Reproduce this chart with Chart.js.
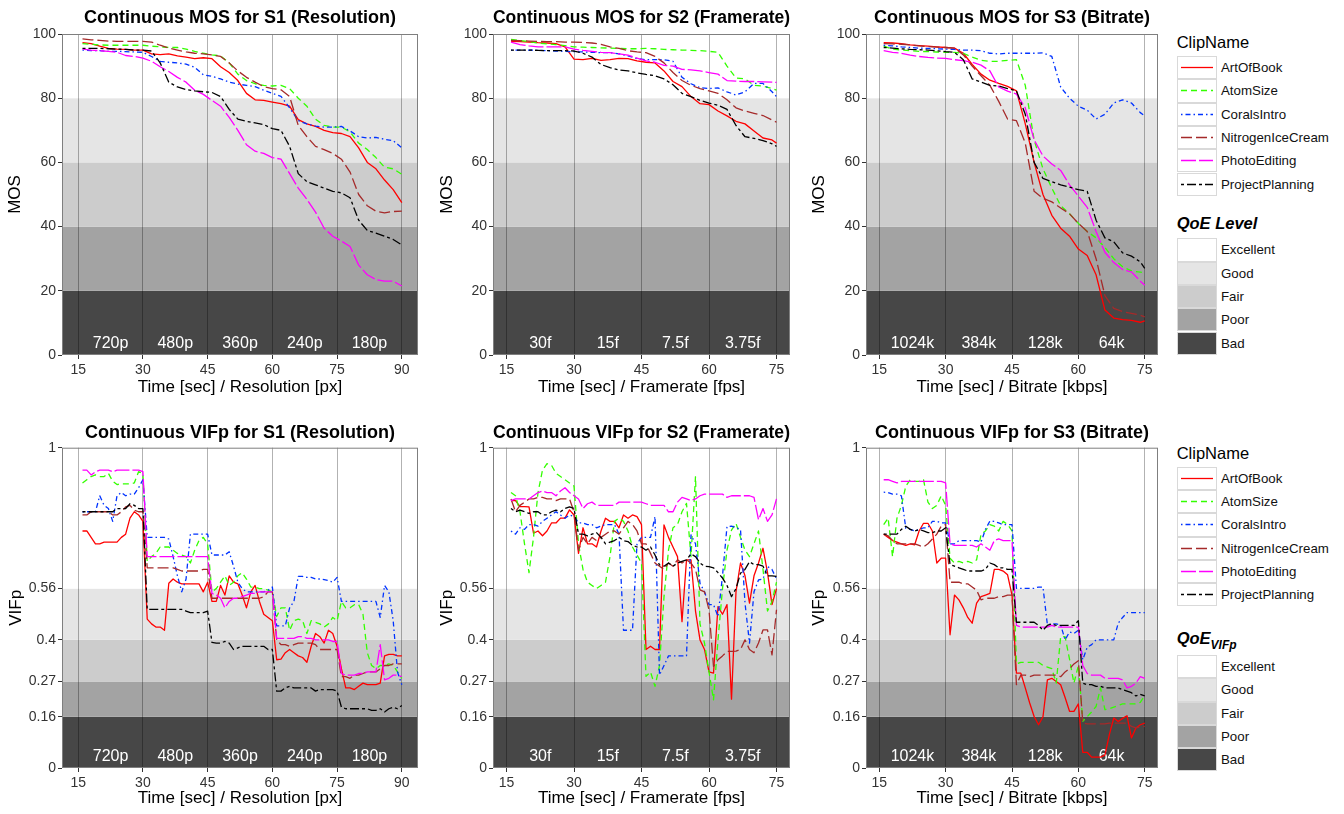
<!DOCTYPE html>
<html>
<head>
<meta charset="utf-8">
<script src="https://cdn.jsdelivr.net/npm/chart.js@4.4.0/dist/chart.umd.min.js"></script>
<style>
  body { margin: 0; background: #fff; font-family: "Liberation Sans", Arial, sans-serif; }
  #page { position: relative; width: 1344px; height: 814px; overflow: hidden; }
  canvas { position: absolute; }
  .lg { position: absolute; color: #000; white-space: nowrap; }
  .key { position: absolute; width: 40px; height: 23.3px; box-sizing: border-box; border: 1px solid #d9d9d9; background: #fff; }
  .lab { position: absolute; font-size: 13.3px; line-height: 23.3px; color: #111; }
</style>
</head>
<body>
<div id="page">
  <canvas id="mos1" width="422" height="400" style="left:0;top:0"></canvas>
  <canvas id="mos2" width="364" height="400" style="left:430px;top:0"></canvas>
  <canvas id="mos3" width="362" height="400" style="left:800px;top:0"></canvas>
  <canvas id="vif1" width="422" height="404" style="left:0;top:410px"></canvas>
  <canvas id="vif2" width="364" height="404" style="left:430px;top:410px"></canvas>
  <canvas id="vif3" width="362" height="404" style="left:800px;top:410px"></canvas>
</div>
<script>
// ---- categories / ticks ----
const clipNames = ["ArtOfBook", "AtomSize", "CoralsIntro", "NitrogenIceCream", "PhotoEditing", "ProjectPlanning"];
const qoeLevels = ["Excellent", "Good", "Fair", "Poor", "Bad"];
const mosLimits = [0, 20, 40, 60, 80, 100];
const vifLimits = [0, 0.16, 0.27, 0.4, 0.56, 1];
const mosTicks = [0, 20, 40, 60, 80, 100];
const vifTicks = [0, 0.16, 0.27, 0.4, 0.56, 1];
const s1Ticks = [15, 30, 45, 60, 75, 90];
const s23Ticks = [15, 30, 45, 60, 75];
const s1Segments = ["720p", "480p", "360p", "240p", "180p"];
const s2Segments = ["30f", "15f", "7.5f", "3.75f"];
const s3Segments = ["1024k", "384k", "128k", "64k"];
const segCenters = [22.5, 37.5, 52.5, 67.5, 82.5];

// ---- time axes ----
const mosTimeS1 = [16,18,20,22,24,26,28,30,32,34,36,38,40,42,44,46,48,50,52,54,56,58,60,62,64,66,68,70,72,74,76,78,80,82,84,86,88,90];
const mosTimeS23 = [16,18,20,22,24,26,28,30,32,34,36,38,40,42,44,46,48,50,52,54,56,58,60,62,64,66,68,70,72,74,75];
const vifTimeS1 = [16,17,18,19,20,21,22,23,24,25,26,27,28,29,30,31,32,33,34,35,36,37,38,39,40,41,42,43,44,45,46,47,48,49,50,51,52,53,54,55,56,57,58,59,60,61,62,63,64,65,66,67,68,69,70,71,72,73,74,75,76,77,78,79,80,81,82,83,84,85,86,87,88,89,90];
const vifTimeS23 = [16,17,18,19,20,21,22,23,24,25,26,27,28,29,30,31,32,33,34,35,36,37,38,39,40,41,42,43,44,45,46,47,48,49,50,51,52,53,54,55,56,57,58,59,60,61,62,63,64,65,66,67,68,69,70,71,72,73,74,75];

// ---- MOS S1 (Resolution) ----
const s1MosArt = [97.3,97.0,96.2,95.5,95.3,95.2,95.0,95.0,93.8,93.6,93.8,93.2,92.8,92.3,92.6,92.3,89.8,88.0,85.5,81.5,79.5,79.3,78.8,78.3,77.5,73.3,72.0,71.2,70.0,69.3,69.0,68.0,64.5,60.0,58.0,54.5,51.5,47.5];
const s1MosAtom = [97.0,96.8,96.6,96.5,96.5,96.5,96.5,96.5,96.2,96.0,95.8,95.8,95.3,94.6,94.0,93.5,93.2,91.0,87.5,85.5,84.5,84.0,83.8,84.0,83.0,80.0,77.5,73.5,71.5,71.0,71.0,69.5,66.0,64.0,61.5,58.5,58.0,56.3];
const s1MosCorals = [95.0,94.8,94.8,94.6,94.6,94.5,94.4,94.3,93.0,91.5,91.2,91.0,90.6,89.6,87.3,86.8,86.0,85.0,84.4,84.0,83.6,82.5,81.5,80.6,77.0,73.0,72.0,71.3,71.0,71.0,71.2,69.8,68.0,67.6,67.8,67.2,66.8,64.5];
const s1MosNitro = [98.5,98.2,98.0,97.8,97.7,97.7,97.7,97.7,97.5,96.5,95.6,95.0,94.4,94.0,93.8,93.5,93.0,91.0,88.5,86.5,85.0,83.6,83.0,82.6,80.5,71.5,68.0,65.0,64.0,62.8,61.0,57.0,50.0,46.5,44.8,44.3,44.7,44.8];
const s1MosPhoto = [95.3,95.0,94.8,94.6,94.3,93.3,93.0,92.5,91.5,89.8,88.3,86.5,85.0,82.5,81.2,79.3,77.5,74.0,70.0,65.5,63.5,62.8,61.5,61.0,56.5,52.0,48.5,44.5,39.5,37.0,35.5,33.8,28.0,25.0,23.5,23.0,23.0,21.5];
const s1MosProject = [95.5,95.5,95.5,95.4,95.3,95.2,95.0,95.0,94.7,91.0,85.0,83.5,82.7,82.3,82.0,81.8,80.5,76.5,73.5,72.8,72.3,71.8,70.5,70.0,65.0,56.5,54.0,53.0,52.0,51.0,50.5,49.0,42.0,38.8,38.0,37.0,36.0,34.3];

// ---- MOS S2 (Framerate) ----
const s2MosArt = [97.7,97.6,97.5,97.3,97.2,97.0,96.0,92.2,92.0,92.4,91.8,92.0,92.4,92.3,91.6,91.2,91.0,88.5,85.2,83.6,80.5,78.3,78.0,76.0,74.5,72.8,72.0,69.8,67.6,67.0,66.0];
const s2MosAtom = [98.3,98.0,97.6,97.2,96.9,96.7,96.4,96.0,95.9,95.8,95.7,95.6,95.5,95.4,95.4,95.5,95.4,95.2,95.1,95.0,94.9,94.8,94.6,94.3,90.0,86.3,86.0,84.0,83.8,83.0,82.5];
const s2MosCorals = [95.0,95.0,95.0,94.9,94.8,94.7,94.6,94.5,94.4,94.3,94.2,94.2,93.8,93.2,92.3,92.0,92.0,92.0,91.5,86.5,84.5,83.3,83.0,83.2,82.0,81.0,82.0,84.6,84.6,82.0,80.5];
const s2MosNitro = [98.0,97.9,97.8,97.7,97.6,97.6,97.5,97.5,97.4,97.2,96.8,96.0,95.5,94.8,94.4,94.2,93.0,91.0,88.0,85.5,84.0,83.0,82.3,81.5,79.5,77.0,76.0,75.3,74.6,73.2,72.5];
const s2MosPhoto = [97.5,96.7,96.3,96.0,96.0,96.0,96.0,95.3,94.9,94.6,94.3,94.2,93.8,93.4,92.5,91.6,91.2,90.2,90.0,89.0,88.8,88.5,88.0,87.5,85.5,85.3,85.2,85.2,85.1,85.0,84.9];
const s2MosProject = [95.0,95.0,95.0,94.9,94.8,94.8,94.8,94.7,94.0,92.8,90.5,89.5,88.8,88.5,87.9,87.4,87.0,86.0,84.2,81.5,80.5,79.3,78.5,77.8,76.5,71.5,68.0,67.5,66.8,65.8,65.0];

// ---- MOS S3 (Bitrate) ----
const s3MosArt = [97.3,97.2,97.0,96.6,96.4,96.2,96.0,95.8,95.6,94.0,90.5,87.5,85.6,84.6,83.7,82.3,72.0,60.0,50.0,43.5,39.5,37.0,33.0,31.0,25.0,14.0,11.5,11.0,10.8,10.2,10.6];
const s3MosAtom = [96.2,95.3,95.0,94.8,94.6,94.5,94.4,94.3,94.3,94.0,92.8,91.8,91.5,91.5,91.8,92.0,84.0,67.0,58.0,52.0,46.5,44.0,41.0,38.5,36.5,33.5,30.0,27.5,26.2,25.8,25.6];
const s3MosCorals = [96.5,96.3,96.0,95.8,95.6,95.5,95.4,95.3,95.2,95.0,95.0,94.8,94.0,93.8,94.0,94.0,94.0,94.0,94.1,93.0,83.5,80.0,77.5,76.3,73.5,75.0,78.5,79.5,78.5,75.5,74.5];
const s3MosNitro = [97.0,96.9,96.8,96.6,96.3,96.1,95.9,95.8,95.6,93.5,90.0,87.0,84.0,79.0,73.5,73.0,66.0,51.0,48.8,47.7,45.8,44.0,41.0,38.5,30.0,18.5,14.5,13.5,13.0,12.4,11.9];
const s3MosPhoto = [94.8,94.3,94.0,93.4,93.0,92.7,92.5,92.4,92.0,91.7,91.2,90.3,88.5,83.5,82.2,81.3,77.0,67.0,62.0,59.5,57.5,53.0,49.5,46.0,38.5,32.0,28.8,26.6,25.9,23.0,21.7];
const s3MosProject = [95.8,95.6,95.4,95.2,95.1,95.0,94.8,94.5,94.3,92.0,86.0,85.0,84.0,83.8,83.0,82.3,75.0,60.0,55.0,54.0,53.0,52.3,51.5,51.0,42.0,36.5,35.3,31.8,30.8,29.0,27.0];

// ---- VIFp S1 (Resolution) ----
const s1VifArt = [0.74,0.74,0.72,0.70,0.70,0.705,0.705,0.705,0.705,0.72,0.73,0.78,0.80,0.79,0.77,
  0.465,0.45,0.44,0.44,0.43,0.577,0.59,0.58,0.575,0.575,0.575,0.575,0.575,0.55,0.58,
  0.52,0.52,0.57,0.54,0.60,0.58,0.575,0.54,0.50,0.55,0.57,0.52,0.48,0.47,0.46,
  0.338,0.34,0.36,0.37,0.36,0.35,0.345,0.33,0.38,0.42,0.41,0.39,0.43,0.42,0.38,
  0.31,0.25,0.25,0.245,0.255,0.265,0.26,0.26,0.26,0.265,0.35,0.355,0.355,0.35,0.35];
const s1VifAtom = [0.89,0.90,0.91,0.915,0.91,0.91,0.92,0.895,0.885,0.887,0.887,0.887,0.89,0.925,0.92,
  0.645,0.66,0.67,0.69,0.69,0.69,0.68,0.67,0.665,0.66,0.64,0.68,0.71,0.72,0.70,
  0.55,0.56,0.58,0.60,0.57,0.58,0.60,0.61,0.59,0.565,0.565,0.56,0.56,0.555,0.55,
  0.473,0.50,0.50,0.43,0.46,0.465,0.46,0.42,0.46,0.455,0.45,0.44,0.45,0.47,0.46,
  0.52,0.50,0.50,0.51,0.51,0.48,0.36,0.32,0.31,0.32,0.32,0.325,0.32,0.30,0.28];
const s1VifCorals = [0.80,0.80,0.80,0.80,0.85,0.82,0.81,0.77,0.85,0.86,0.85,0.855,0.855,0.875,0.90,
  0.72,0.72,0.72,0.72,0.72,0.715,0.66,0.60,0.55,0.59,0.73,0.73,0.73,0.73,0.73,
  0.665,0.665,0.665,0.665,0.675,0.63,0.58,0.56,0.55,0.55,0.55,0.55,0.55,0.555,0.565,
  0.444,0.444,0.444,0.50,0.52,0.598,0.598,0.595,0.595,0.59,0.59,0.588,0.585,0.58,0.595,
  0.52,0.52,0.52,0.52,0.52,0.52,0.52,0.52,0.52,0.47,0.57,0.55,0.46,0.30,0.26];
const s1VifNitro = [0.79,0.79,0.80,0.80,0.80,0.80,0.80,0.79,0.79,0.80,0.815,0.82,0.805,0.80,0.80,
  0.625,0.625,0.625,0.625,0.625,0.625,0.625,0.62,0.615,0.615,0.615,0.615,0.615,0.62,0.62,
  0.53,0.53,0.53,0.53,0.53,0.53,0.53,0.53,0.53,0.53,0.53,0.53,0.535,0.55,0.55,
  0.40,0.385,0.385,0.38,0.385,0.39,0.39,0.39,0.39,0.385,0.37,0.37,0.37,0.37,0.37,
  0.285,0.285,0.28,0.29,0.29,0.295,0.30,0.30,0.30,0.31,0.32,0.32,0.325,0.325,0.325];
const s1VifPhoto = [0.93,0.93,0.915,0.925,0.93,0.93,0.93,0.925,0.93,0.93,0.93,0.93,0.93,0.93,0.925,
  0.66,0.66,0.66,0.66,0.66,0.66,0.66,0.66,0.66,0.66,0.66,0.66,0.66,0.66,0.66,
  0.545,0.54,0.53,0.50,0.52,0.53,0.53,0.535,0.54,0.545,0.545,0.55,0.55,0.55,0.55,
  0.405,0.405,0.405,0.405,0.405,0.41,0.41,0.405,0.405,0.40,0.40,0.40,0.40,0.395,0.395,
  0.295,0.29,0.29,0.29,0.295,0.295,0.30,0.30,0.30,0.385,0.275,0.28,0.29,0.29,0.285];
const s1VifProject = [0.80,0.80,0.80,0.80,0.80,0.80,0.80,0.80,0.81,0.81,0.81,0.825,0.82,0.81,0.81,
  0.495,0.495,0.495,0.495,0.495,0.495,0.495,0.495,0.495,0.49,0.485,0.485,0.485,0.485,0.49,
  0.392,0.39,0.39,0.395,0.39,0.37,0.375,0.38,0.38,0.38,0.38,0.38,0.38,0.37,0.37,
  0.24,0.24,0.25,0.255,0.25,0.25,0.25,0.25,0.25,0.24,0.245,0.245,0.245,0.245,0.24,
  0.19,0.185,0.185,0.185,0.185,0.185,0.185,0.18,0.18,0.185,0.175,0.185,0.19,0.185,0.195];

// ---- VIFp S2 (Framerate) ----
const s2VifArt = [0.835,0.835,0.816,0.816,0.815,0.733,0.74,0.725,0.74,0.765,0.765,0.78,0.78,0.806,0.79,
  0.67,0.75,0.70,0.70,0.69,0.74,0.78,0.77,0.77,0.75,0.79,0.78,0.79,0.785,0.76,
  0.37,0.38,0.37,0.37,0.759,0.72,0.69,0.66,0.457,0.65,0.65,0.49,0.40,0.37,0.30,
  0.296,0.504,0.48,0.51,0.215,0.55,0.64,0.60,0.515,0.60,0.64,0.686,0.61,0.51,0.56];
const s2VifAtom = [0.86,0.85,0.80,0.70,0.61,0.72,0.86,0.93,0.95,0.945,0.92,0.91,0.90,0.89,0.88,
  0.70,0.62,0.58,0.57,0.56,0.57,0.58,0.66,0.77,0.78,0.77,0.74,0.69,0.665,0.64,
  0.286,0.30,0.255,0.32,0.535,0.68,0.75,0.76,0.80,0.826,0.66,0.91,0.45,0.39,0.30,
  0.213,0.40,0.56,0.68,0.743,0.764,0.72,0.68,0.66,0.70,0.74,0.62,0.49,0.52,0.58];
const s2VifCorals = [0.74,0.73,0.75,0.745,0.76,0.76,0.755,0.77,0.78,0.79,0.80,0.79,0.78,0.79,0.785,
  0.765,0.765,0.76,0.76,0.75,0.755,0.76,0.76,0.76,0.73,0.43,0.43,0.43,0.70,0.72,
  0.72,0.72,0.785,0.29,0.32,0.35,0.35,0.35,0.35,0.35,0.728,0.70,0.577,0.55,0.51,
  0.51,0.473,0.60,0.754,0.755,0.75,0.745,0.515,0.39,0.55,0.587,0.59,0.629,0.62,0.59];
const s2VifNitro = [0.84,0.80,0.82,0.83,0.84,0.84,0.845,0.845,0.84,0.84,0.835,0.84,0.84,0.84,0.80,
  0.68,0.72,0.70,0.72,0.71,0.72,0.73,0.74,0.74,0.73,0.75,0.77,0.76,0.74,0.70,
  0.70,0.67,0.64,0.63,0.62,0.64,0.63,0.65,0.64,0.65,0.64,0.62,0.556,0.55,0.494,
  0.317,0.338,0.35,0.364,0.364,0.365,0.37,0.40,0.37,0.36,0.39,0.431,0.431,0.353,0.494];
const s2VifPhoto = [0.835,0.84,0.84,0.84,0.84,0.85,0.86,0.865,0.86,0.86,0.85,0.865,0.875,0.86,0.85,
  0.84,0.81,0.825,0.83,0.82,0.82,0.82,0.82,0.82,0.83,0.83,0.83,0.83,0.83,0.83,
  0.825,0.82,0.82,0.82,0.82,0.80,0.80,0.83,0.845,0.84,0.835,0.84,0.85,0.855,0.855,
  0.855,0.855,0.855,0.845,0.85,0.85,0.85,0.85,0.85,0.845,0.775,0.81,0.77,0.79,0.84];
const s2VifProject = [0.81,0.80,0.805,0.80,0.795,0.80,0.80,0.79,0.79,0.80,0.805,0.80,0.81,0.815,0.81,
  0.73,0.73,0.725,0.73,0.735,0.72,0.70,0.705,0.71,0.72,0.71,0.707,0.695,0.69,0.69,
  0.68,0.69,0.665,0.634,0.63,0.64,0.63,0.64,0.645,0.65,0.668,0.66,0.64,0.63,0.629,
  0.625,0.61,0.593,0.57,0.535,0.56,0.608,0.62,0.644,0.635,0.635,0.63,0.60,0.60,0.598];

// ---- VIFp S3 (Bitrate) ----
const s3VifArt = [0.73,0.72,0.71,0.705,0.70,0.695,0.70,0.697,0.74,0.764,0.764,0.74,0.64,0.655,0.655,
  0.416,0.54,0.525,0.50,0.47,0.452,0.515,0.535,0.54,0.545,0.62,0.62,0.615,0.603,0.54,
  0.296,0.296,0.25,0.203,0.161,0.135,0.16,0.275,0.28,0.27,0.26,0.22,0.177,0.177,0.20,
  0.049,0.049,0.034,0.034,0.034,0.04,0.104,0.156,0.145,0.155,0.163,0.094,0.125,0.135,0.14];
const s3VifAtom = [0.76,0.78,0.66,0.78,0.82,0.88,0.90,0.895,0.895,0.90,0.83,0.81,0.82,0.85,0.82,
  0.655,0.64,0.645,0.64,0.645,0.64,0.65,0.73,0.74,0.76,0.755,0.74,0.77,0.76,0.74,
  0.325,0.33,0.33,0.33,0.33,0.33,0.32,0.315,0.31,0.265,0.41,0.41,0.34,0.265,0.32,
  0.146,0.16,0.175,0.192,0.25,0.182,0.185,0.19,0.195,0.20,0.20,0.20,0.20,0.205,0.226];
const s3VifCorals = [0.861,0.86,0.855,0.855,0.85,0.748,0.745,0.74,0.745,0.75,0.75,0.77,0.77,0.765,0.765,
  0.70,0.70,0.71,0.71,0.71,0.71,0.71,0.705,0.745,0.771,0.77,0.765,0.76,0.76,0.76,
  0.561,0.561,0.561,0.561,0.561,0.565,0.565,0.447,0.45,0.45,0.447,0.40,0.425,0.42,0.43,
  0.338,0.377,0.385,0.40,0.40,0.40,0.40,0.40,0.452,0.47,0.485,0.485,0.485,0.485,0.485];
const s3VifNitro = [0.73,0.725,0.71,0.70,0.70,0.70,0.70,0.70,0.695,0.69,0.70,0.715,0.73,0.755,0.76,
  0.58,0.58,0.58,0.575,0.575,0.565,0.555,0.525,0.53,0.53,0.53,0.535,0.535,0.54,0.54,
  0.26,0.29,0.29,0.285,0.29,0.29,0.29,0.29,0.29,0.29,0.285,0.30,0.31,0.325,0.335,
  0.14,0.138,0.138,0.138,0.138,0.138,0.14,0.14,0.14,0.14,0.14,0.13,0.125,0.128,0.13];
const s3VifPhoto = [0.90,0.90,0.895,0.89,0.895,0.895,0.895,0.895,0.895,0.895,0.895,0.895,0.895,0.895,0.89,
  0.70,0.695,0.695,0.695,0.695,0.695,0.69,0.70,0.69,0.68,0.71,0.715,0.71,0.71,0.71,
  0.445,0.44,0.44,0.44,0.44,0.44,0.44,0.44,0.445,0.44,0.44,0.44,0.44,0.44,0.44,
  0.32,0.295,0.29,0.29,0.29,0.28,0.28,0.28,0.28,0.275,0.25,0.255,0.265,0.285,0.28];
const s3VifProject = [0.73,0.73,0.73,0.73,0.745,0.755,0.745,0.74,0.745,0.74,0.735,0.735,0.74,0.74,0.75,
  0.635,0.63,0.625,0.62,0.615,0.615,0.615,0.615,0.62,0.64,0.635,0.625,0.625,0.62,0.62,
  0.455,0.455,0.455,0.455,0.455,0.445,0.43,0.445,0.45,0.445,0.445,0.445,0.445,0.445,0.46,
  0.265,0.26,0.26,0.255,0.255,0.25,0.25,0.25,0.25,0.245,0.24,0.235,0.225,0.23,0.225];

// ---- styles ----
const clipColors = ["#FF0000", "#33FF00", "#0033FF", "#A52A2A", "#FF00FF", "#000000"];
const clipDashes = [[], [6, 4], [1.5, 3, 5, 3], [11, 4], [15, 3], [3, 3, 9, 3]];
const qoeColors = ["#FFFFFF", "#E5E5E5", "#CCCCCC", "#A3A3A3", "#474747"];
const FONT = '"Liberation Sans", Arial, sans-serif';
Chart.defaults.font.family = FONT;

const qoePlugin = {
  id: "qoe",
  beforeDraw(chart, args, opts) {
    const { ctx, chartArea: a } = chart;
    const y = chart.scales.y;
    ctx.save();
    for (let i = 0; i < opts.limits.length - 1; i++) {
      const top = y.getPixelForValue(opts.limits[i + 1]);
      const bot = y.getPixelForValue(opts.limits[i]);
      ctx.fillStyle = qoeColors[qoeColors.length - 1 - i];
      ctx.fillRect(a.left, top, a.right - a.left, bot - top);
    }
    ctx.restore();
  },
  beforeDatasetsDraw(chart, args, opts) {
    const { ctx, chartArea: a } = chart;
    const x = chart.scales.x;
    ctx.save();
    ctx.fillStyle = "#fff";
    ctx.font = "16px " + FONT;
    ctx.textAlign = "center";
    ctx.textBaseline = "middle";
    opts.segments.forEach((s, i) => ctx.fillText(s, x.getPixelForValue(segCenters[i]), a.bottom - 11.5));
    ctx.restore();
  },
  afterDraw(chart) {
    const { ctx, chartArea: a } = chart;
    ctx.save();
    ctx.strokeStyle = "#7f7f7f";
    ctx.lineWidth = 1;
    ctx.strokeRect(a.left + 0.5, a.top + 0.5, a.right - a.left - 1, a.bottom - a.top - 1);
    ctx.restore();
  }
};

function makePanel(id, p) {
  new Chart(document.getElementById(id), {
    type: "line",
    data: {
      datasets: p.series.map((vals, i) => ({
        label: clipNames[i],
        data: vals.map((v, j) => ({ x: p.time[j], y: v })),
        borderColor: clipColors[i],
        borderDash: clipDashes[i],
        borderWidth: 1.3,
        borderJoinStyle: "round",
        pointRadius: 0,
        tension: 0,
        fill: false,
        order: clipNames.length - i
      }))
    },
    options: {
      responsive: false,
      animation: false,
      layout: { padding: { left: 0, right: p.right, top: 0, bottom: 0 } },
      plugins: {
        legend: { display: false },
        tooltip: { enabled: false },
        title: {
          display: true, text: p.title, fullSize: false, color: "#000",
          font: { size: 18, weight: "bold" },
          padding: { top: p.titleTop, bottom: p.titleBottom }
        },
        qoe: { limits: p.limits, segments: p.segments }
      },
      scales: {
        x: {
          type: "linear", min: p.xMin, max: p.xMax,
          afterBuildTicks: s => { s.ticks = p.xTicks.map(v => ({ value: v })); },
          afterFit: s => { s.height = p.xAxisH; },
          ticks: { color: "#333", font: { size: 14 }, padding: 3, maxRotation: 0, autoSkip: false, callback: v => String(v) },
          grid: { color: "rgba(0,0,0,0.3)", tickColor: "#333", tickLength: 4, lineWidth: 1 },
          border: { display: false },
          title: { display: true, text: p.xTitle, color: "#000", font: { size: 17 }, padding: { top: 0, bottom: p.xTitlePad } }
        },
        y: {
          type: "linear", min: 0, max: p.yMax,
          afterBuildTicks: s => { s.ticks = p.yTicks.map(v => ({ value: v })); },
          afterFit: s => { s.width = p.yAxisW; },
          ticks: { color: "#333", font: { size: 14 }, padding: 2, autoSkip: false, callback: v => String(v) },
          grid: { drawOnChartArea: false, tickColor: "#333", tickLength: 4 },
          border: { display: false },
          title: { display: true, text: p.yTitle, color: "#000", font: { size: 17 }, padding: { top: p.yTitlePad, bottom: 0 } }
        }
      }
    },
    plugins: [qoePlugin]
  });
}

const topRow = { titleTop: 7.5, titleBottom: 4.9, xAxisH: 45, xTitlePad: 2.5, yMax: 100, yTicks: mosTicks, limits: mosLimits, yTitle: "MOS", right: 4 };
const botRow = { titleTop: 11.9, titleBottom: 4.2, xAxisH: 46, xTitlePad: 5.5, yMax: 1, yTicks: vifTicks, limits: vifLimits, yTitle: "VIFp", right: 4 };
const colS1 = { xMin: 11.25, xMax: 93.75, xTicks: s1Ticks, segments: s1Segments, xTitle: "Time [sec] / Resolution [px]", yAxisW: 62 };
const colS2 = { xMin: 12, xMax: 78, xTicks: s23Ticks, segments: s2Segments, xTitle: "Time [sec] / Framerate [fps]", yAxisW: 63 };
const colS3 = { xMin: 12, xMax: 78, xTicks: s23Ticks, segments: s3Segments, xTitle: "Time [sec] / Bitrate [kbps]", yAxisW: 66 };

makePanel("mos1", { ...topRow, ...colS1, yTitlePad: 5.5, title: "Continuous MOS for S1 (Resolution)", time: mosTimeS1,
  series: [s1MosArt, s1MosAtom, s1MosCorals, s1MosNitro, s1MosPhoto, s1MosProject] });
makePanel("mos2", { ...topRow, ...colS2, yTitlePad: 7.1, title: "Continuous MOS for S2 (Framerate)", time: mosTimeS23,
  series: [s2MosArt, s2MosAtom, s2MosCorals, s2MosNitro, s2MosPhoto, s2MosProject] });
makePanel("mos3", { ...topRow, ...colS3, yTitlePad: 8.8, title: "Continuous MOS for S3 (Bitrate)", time: mosTimeS23,
  series: [s3MosArt, s3MosAtom, s3MosCorals, s3MosNitro, s3MosPhoto, s3MosProject] });
makePanel("vif1", { ...botRow, ...colS1, yTitlePad: 6.5, title: "Continuous VIFp for S1 (Resolution)", time: vifTimeS1,
  series: [s1VifArt, s1VifAtom, s1VifCorals, s1VifNitro, s1VifPhoto, s1VifProject] });
makePanel("vif2", { ...botRow, ...colS2, yTitlePad: 7.1, title: "Continuous VIFp for S2 (Framerate)", time: vifTimeS23,
  series: [s2VifArt, s2VifAtom, s2VifCorals, s2VifNitro, s2VifPhoto, s2VifProject] });
makePanel("vif3", { ...botRow, ...colS3, yTitlePad: 8.8, title: "Continuous VIFp for S3 (Bitrate)", time: vifTimeS23,
  series: [s3VifArt, s3VifAtom, s3VifCorals, s3VifNitro, s3VifPhoto, s3VifProject] });

// ---- legends ----
const page = document.getElementById("page");
function addEl(cls, css, html) {
  const d = document.createElement("div");
  d.className = cls;
  d.style.cssText = css;
  if (html !== undefined) d.innerHTML = html;
  page.appendChild(d);
  return d;
}
function buildLegend(titleTop, keysTop, qoeTitleTop, qoeKeysTop, qoeTitleHtml) {
  const step = 23.3, left = 1176.7;
  addEl("lg", `left:${left}px;top:${titleTop}px;font-size:16.5px;line-height:20px`, "ClipName");
  clipNames.forEach((name, i) => {
    const top = keysTop + i * step;
    const dash = clipDashes[i].length ? clipDashes[i].join(",") : "none";
    addEl("key", `left:${left}px;top:${top}px`,
      `<svg width="38" height="21" style="display:block"><line x1="3" y1="10.5" x2="35" y2="10.5" stroke="${clipColors[i]}" stroke-width="1.3" stroke-dasharray="${dash}"/></svg>`);
    addEl("lab", `left:${left + 44.3}px;top:${top}px`, name);
  });
  addEl("lg", `left:${left}px;top:${qoeTitleTop}px;font-size:16.5px;line-height:20px;font-weight:bold;font-style:italic`, qoeTitleHtml);
  qoeLevels.forEach((lvl, i) => {
    const top = qoeKeysTop + i * step;
    addEl("key", `left:${left}px;top:${top}px;background:${qoeColors[i]}`);
    addEl("lab", `left:${left + 44.3}px;top:${top}px`, lvl);
  });
}
buildLegend(31.7, 56, 213.3, 238.3, "QoE Level");
buildLegend(442.7, 466.7, 628, 655, 'QoE<sub style="font-size:12px;vertical-align:-5px">VIFp</sub>');
</script>
</body>
</html>
